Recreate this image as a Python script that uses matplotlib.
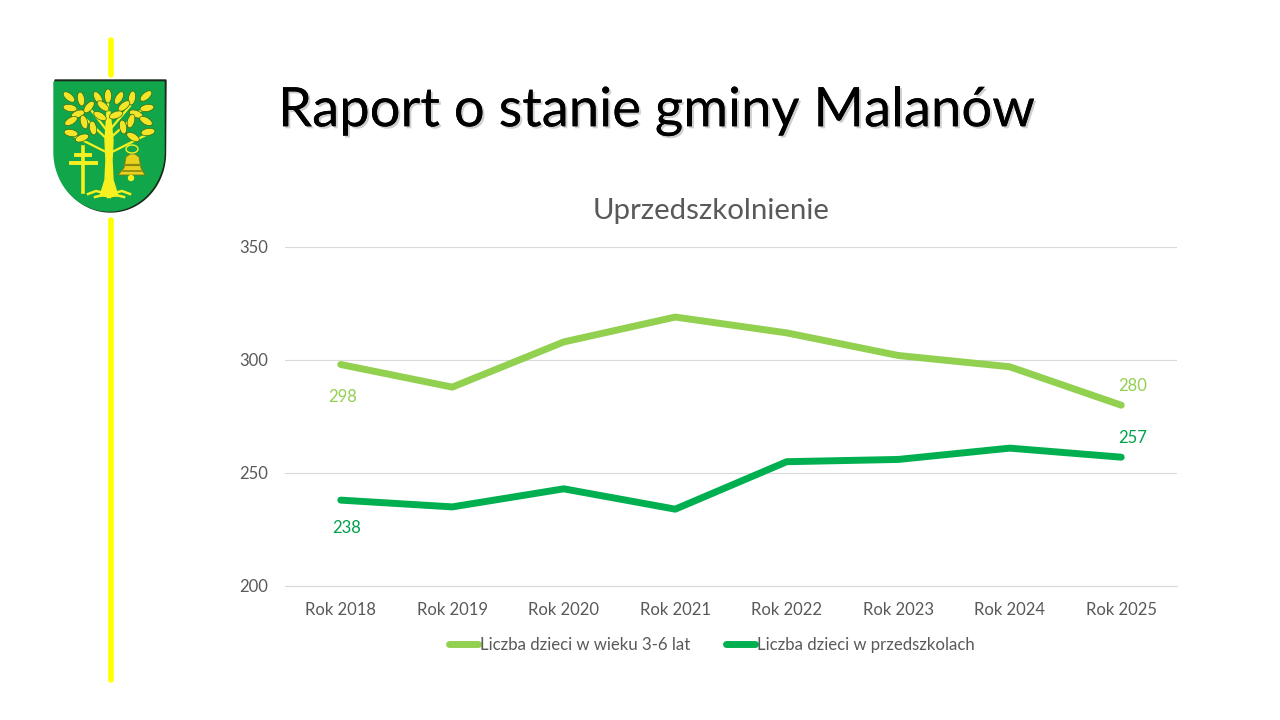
import numpy as np
import matplotlib
matplotlib.use("Agg")
import matplotlib.pyplot as plt
import matplotlib.patheffects as pe
from matplotlib.patches import Polygon, Ellipse

plt.rcParams['font.family'] = ['Lato', 'DejaVu Sans']

years = ["Rok 2018", "Rok 2019", "Rok 2020", "Rok 2021",
         "Rok 2022", "Rok 2023", "Rok 2024", "Rok 2025"]
children_3_6 = [298, 288, 308, 319, 312, 302, 297, 280]
in_preschool = [238, 235, 243, 234, 255, 256, 261, 257]
y_ticks = [200, 250, 300, 350]

LIGHT = "#92D050"
DARK = "#00B050"
GREY = "#595959"
W, H = 1280, 720


def draw_crest(bg):
    # coat of arms, in page pixels
    t = np.linspace(0, np.pi, 60)
    cx, cy = 109, 152
    arc_x = cx + 55 * np.cos(t)
    arc_y = cy + 59 * np.sin(t)
    shadow = list(zip(arc_x + 1.5, arc_y + 1)) + [(55, 80), (166, 80)]
    bg.add_patch(Polygon(shadow, color="#1a2a1a", zorder=3))
    shield = list(zip(arc_x, arc_y)) + [(54, 82), (164, 82)]
    bg.add_patch(Polygon(shield, color="#12A64A", zorder=4))

    # trunk and roots
    bg.add_patch(Polygon([(100, 196), (118, 196), (113, 180), (112, 160), (113, 140), (110, 112),
                          (107, 112), (105, 140), (106, 160), (105, 180)],
                         color="#F7F021", zorder=5))
    for xs, ys in [([88, 96, 104], [194, 191, 193]), ([114, 122, 130], [193, 191, 194]),
                   ([95, 103, 110], [197, 195, 197]), ([108, 116, 124], [197, 195, 197])]:
        bg.plot(xs, ys, color="#F7F021", lw=1.8, zorder=5)

    # branches
    for x0, y0, x1, y1 in [(108, 140, 72, 106), (108, 132, 88, 106), (108, 140, 146, 106),
                           (108, 132, 130, 106), (106, 152, 70, 134), (112, 152, 148, 134),
                           (108, 120, 108, 95)]:
        bg.plot([x0, x1], [y0, y1], color="#F7F021", lw=1.6, zorder=5)

    # leaves
    leaves = [(69, 97, 40), (81, 99, 80), (98, 98, 60), (108, 96, 90), (119, 98, -60),
              (132, 98, -80), (146, 96, -40), (70, 108, 10), (147, 108, -10),
              (78, 114, -20), (136, 114, 20), (89, 107, -50), (103, 106, 40), (124, 106, -40),
              (71, 121, -30), (84, 122, 75), (93, 128, 80), (123, 127, 80), (131, 121, -75),
              (146, 121, 30), (71, 133, 10), (148, 132, -10), (82, 138, -20), (133, 137, 30),
              (100, 116, 30), (116, 115, -20)]
    for x, y, ang in leaves:
        bg.add_patch(Ellipse((x, y), 14, 7, angle=ang, facecolor="#F2E52A",
                             edgecolor="#3a6a10", lw=0.5, zorder=6))

    # cross
    bg.plot([83, 83], [147, 192], color="#F7F021", lw=2.6, zorder=6)
    bg.plot([71, 96], [163, 163], color="#F7F021", lw=2.8, zorder=6)
    bg.plot([76, 90], [155, 155], color="#F7F021", lw=2.8, zorder=6)

    # bell
    bg.add_patch(Polygon([(118, 175), (124, 168), (126, 157), (130, 154), (135, 154),
                          (139, 157), (141, 168), (145, 175)],
                         facecolor="#E8D21E", edgecolor="#7a7a10", lw=0.6, zorder=6))
    bg.plot([125, 140], [165, 165], color="#8a8a10", lw=1.6, zorder=7)
    bg.plot([123, 142], [171, 171], color="#8a8a10", lw=1.2, zorder=7)
    bg.add_patch(Ellipse((131, 178), 5, 5, color="#F7F021", zorder=6))
    bg.add_patch(Ellipse((132, 149), 12, 8, fill=False, edgecolor="#F7F021", lw=1, zorder=6))


fig = plt.figure(figsize=(W / 100, H / 100), dpi=100)

# page layer, in pixel coordinates
bg = fig.add_axes([0, 0, 1, 1])
bg.set_xlim(0, W)
bg.set_ylim(H, 0)
bg.axis("off")

bg.plot([110.5, 110.5], [40, 75], color="#FFFF00", lw=4, solid_capstyle="round")
bg.plot([110.5, 110.5], [220, 680], color="#FFFF00", lw=4, solid_capstyle="round")
draw_crest(bg)

bg.text(278, 111, "Raport o stanie gminy Malanów", fontsize=39.2, color="black",
        va="center", ha="left",
        path_effects=[pe.withSimplePatchShadow(offset=(1.5, -1.5), shadow_rgbFace="#777777", alpha=0.35),
                      pe.Normal()])
bg.text(711, 211, "Uprzedszkolnienie", fontsize=21.2, color=GREY, va="center", ha="center")

# chart
ax = fig.add_axes([285 / W, 1 - 586 / H, (1177 - 285) / W, (586 - 247) / H])
ax.patch.set_alpha(0)
x = np.arange(len(years))
l1, = ax.plot(x, children_3_6, color=LIGHT, lw=5, solid_capstyle="round",
              label="Liczba dzieci w wieku 3-6 lat")
l2, = ax.plot(x, in_preschool, color=DARK, lw=5, solid_capstyle="round",
              label="Liczba dzieci w przedszkolach")

ax.set_xlim(-0.5, len(years) - 0.5)
ax.set_ylim(200, 350)
ax.set_yticks(y_ticks)
ax.set_xticks(x, years)
ax.grid(axis="y", color="#D9D9D9", lw=0.8)
ax.set_axisbelow(True)
for s in ["top", "left", "right"]:
    ax.spines[s].set_visible(False)
ax.spines["bottom"].set_color("#D9D9D9")
ax.tick_params(length=0, labelsize=12, labelcolor=GREY)
ax.tick_params(axis="x", pad=11.5)
ax.tick_params(axis="y", pad=12)


def label(i, series, dx, dy, color):
    # offsets given in pixels
    ax.annotate(str(series[i]), (x[i], series[i]), xytext=(dx * 0.72, dy * 0.72),
                textcoords="offset points", ha="center", va="center",
                color=color, fontsize=12)


label(0, children_3_6, 2, -32, LIGHT)
label(7, children_3_6, 11, 19, LIGHT)
label(0, in_preschool, 6, -28, "#00A04A")
label(7, in_preschool, 11, 19, "#00A04A")

ax.legend(handles=[l1, l2], loc="center", bbox_to_anchor=(712 / W, 1 - 645 / H),
          bbox_transform=fig.transFigure, ncol=2, frameon=False, fontsize=12.1,
          labelcolor=GREY, handlelength=1.75, handletextpad=0.12, columnspacing=2.1)

fig.savefig("out.png", dpi=100)
